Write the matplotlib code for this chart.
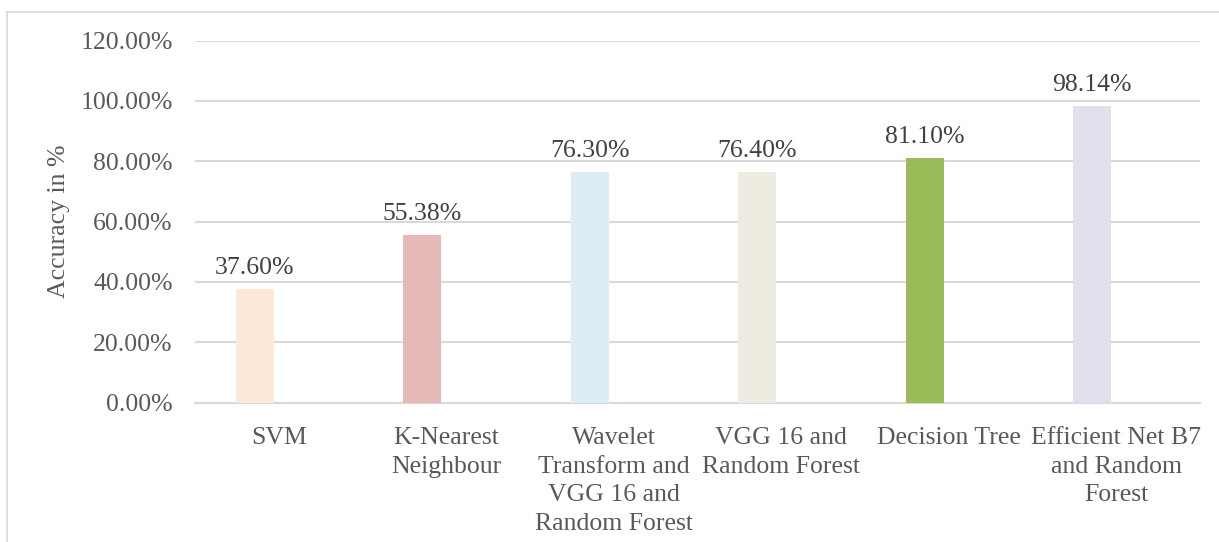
import matplotlib
matplotlib.use("Agg")
import matplotlib.pyplot as plt
from matplotlib.lines import Line2D
import numpy as np

categories = ["SVM", "K-Nearest\nNeighbour", "Wavelet\nTransform and\nVGG 16 and\nRandom Forest",
              "VGG 16 and\nRandom Forest", "Decision Tree", "Efficient Net B7\nand Random\nForest"]
accuracy = [37.60, 55.38, 76.30, 76.40, 81.10, 98.14]
bar_colors = ["#FDE9D9", "#E6B8B7", "#DAEEF3", "#EEECE1", "#9BBB59", "#E4DFEC"]
y_ticks = [0, 20, 40, 60, 80, 100, 120]

plt.rcParams['font.family'] = ['Liberation Serif', 'DejaVu Serif']
txt_color = "#595959"
grid_color = "#D9D9D9"
fs = 18.5

W, H = 1219, 542
fig = plt.figure(figsize=(W / 100, H / 100), dpi=100)

# chart border (top and left visible)
fig.add_artist(Line2D([7 / W, 7 / W], [0, 1 - 11.5 / H], color=grid_color, lw=1.2))
fig.add_artist(Line2D([7 / W, 1], [1 - 11.5 / H, 1 - 11.5 / H], color=grid_color, lw=1.2))

left, right, top, bottom = 195, 1200, 40.5, 402.5
ax = fig.add_axes([left / W, 1 - bottom / H, (right - left) / W, (bottom - top) / H])

x = np.arange(len(categories))
cat_w = (right - left) / len(categories)
offset = 24 / cat_w
bw = 38 / cat_w
bars = ax.bar(x - offset, accuracy, width=bw, color=bar_colors, zorder=3)

for xi, v in zip(x, accuracy):
    ax.annotate(f"{v:.2f}%", (xi - offset, v), xytext=(0, 10.8), textcoords="offset points",
                ha="center", va="baseline", fontsize=fs, color="#404040")

ax.set_xlim(-0.5, len(categories) - 0.5)
ax.set_ylim(0, 120)
ax.set_yticks(y_ticks)
ax.set_yticklabels([f"{t:.2f}%" for t in y_ticks], fontsize=fs, color=txt_color)
ax.set_xticks(x)
ax.set_xticklabels(categories, fontsize=fs, color=txt_color, linespacing=1.38, va="top")
ax.tick_params(axis="both", length=0)
ax.tick_params(axis="y", pad=16)
ax.tick_params(axis="x", pad=18)
ax.grid(axis="y", color=grid_color, lw=1.5, zorder=0)
for s in ["top", "right", "left"]:
    ax.spines[s].set_visible(False)
ax.spines["bottom"].set_color(grid_color)
ax.spines["bottom"].set_linewidth(1.5)

ax.set_ylabel("Accuracy in %", fontsize=fs, color=txt_color)
ax.yaxis.set_label_coords((70 - left) / (right - left), 0.5)

fig.savefig("out.png", dpi=100)
